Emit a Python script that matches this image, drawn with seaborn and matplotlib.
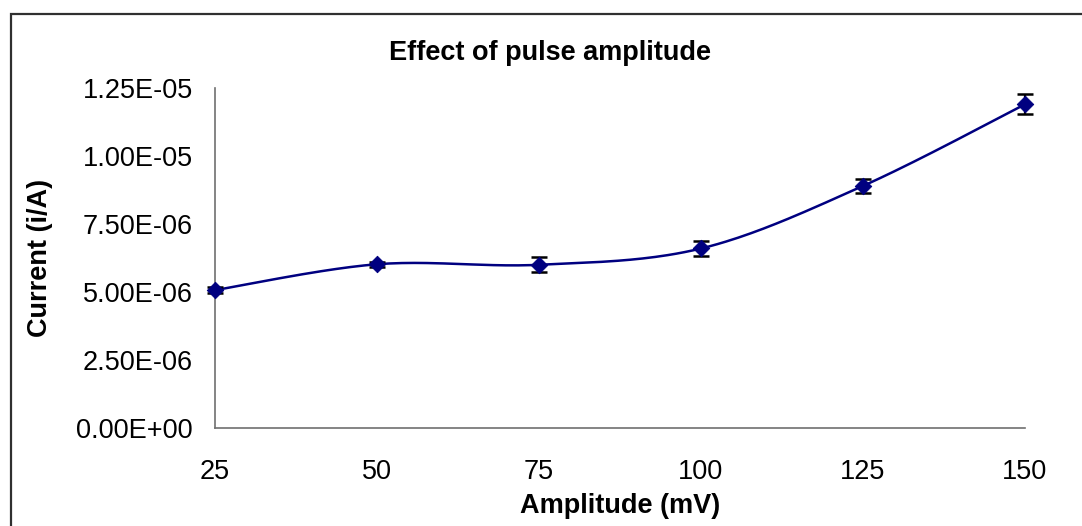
import numpy as np
import pandas as pd
import matplotlib
matplotlib.use("Agg")
import matplotlib.pyplot as plt
import seaborn as sns
from matplotlib.patches import Rectangle

# Measured data
amplitude_mv = [25, 50, 75, 100, 125, 150]
current_a = [5.07e-6, 6.02e-6, 6.0e-6, 6.6e-6, 8.9e-6, 11.9e-6]
current_err = [0.1e-6, 0.1e-6, 0.28e-6, 0.29e-6, 0.25e-6, 0.37e-6]
x_ticks = [25, 50, 75, 100, 125, 150]
y_ticks = [0, 2.5e-6, 5.0e-6, 7.5e-6, 1.0e-5, 1.25e-5]

sns.set_theme(style="white")
plt.rcParams["font.family"] = ["Liberation Sans", "DejaVu Sans"]
plt.rcParams["text.color"] = "black"

W, H = 1082, 526
fig = plt.figure(figsize=(W / 100, H / 100), dpi=100)
ax = fig.add_axes([215 / W, 1 - 428 / H, 810 / W, 340 / H])


def smooth_curve(xs, ys, n=40):
    """Catmull-Rom style smoothed line through the points."""
    p = np.column_stack([xs, ys]).astype(float)
    ext = np.vstack([p[0], p, p[-1]])
    out = []
    for i in range(1, len(ext) - 2):
        p0, p1, p2, p3 = ext[i - 1], ext[i], ext[i + 1], ext[i + 2]
        c1 = p1 + (p2 - p0) / 6
        c2 = p2 - (p3 - p1) / 6
        t = np.linspace(0, 1, n)[:, None]
        seg = ((1 - t) ** 3) * p1 + 3 * ((1 - t) ** 2) * t * c1 + 3 * (1 - t) * t ** 2 * c2 + t ** 3 * p2
        out.append(seg if i == 1 else seg[1:])
    return np.vstack(out)


curve = smooth_curve(amplitude_mv, current_a)
curve_df = pd.DataFrame({"x": curve[:, 0], "y": curve[:, 1]})
pts_df = pd.DataFrame({"Amplitude": amplitude_mv, "Current": current_a})

sns.lineplot(data=curve_df, x="x", y="y", ax=ax, color="#000080", lw=1.8,
             sort=False, estimator=None)
ax.errorbar(amplitude_mv, current_a, yerr=current_err, fmt="none",
            ecolor="black", elinewidth=1.6, capsize=6, capthick=1.8, zorder=3)
sns.scatterplot(data=pts_df, x="Amplitude", y="Current", ax=ax, marker="D",
                s=70, color="#000080", edgecolor="#000080", zorder=4)

ax.set_xlim(25, 150)
ax.set_ylim(0, 1.25e-5)
ax.set_xticks(x_ticks)
ax.set_xticklabels([str(v) for v in x_ticks])
ax.set_yticks(y_ticks)
ax.set_yticklabels(["0.00E+00", "2.50E-06", "5.00E-06", "7.50E-06", "1.00E-05", "1.25E-05"])
ax.set_xlabel("")
ax.set_ylabel("")

for side in ("top", "right"):
    ax.spines[side].set_visible(False)
for side in ("left", "bottom"):
    ax.spines[side].set_color("#707070")
    ax.spines[side].set_linewidth(1.2)
ax.tick_params(axis="both", direction="out", length=7, width=1.2, color="#707070",
               labelsize=19.5, labelcolor="black")
ax.tick_params(axis="x", pad=15.5)
ax.tick_params(axis="y", pad=9)
ax.set_facecolor("white")
for coll in ax.collections:
    coll.set_clip_on(False)
for ln in ax.lines:
    ln.set_clip_on(False)

fig.text(550 / W, 1 - 53 / H, "Effect of pulse amplitude", ha="center", va="center",
         fontsize=19.5, fontweight="bold", color="black")
fig.text(620 / W, 1 - 506 / H, "Amplitude (mV)", ha="center", va="center",
         fontsize=19.5, fontweight="bold", color="black")
fig.text(40 / W, 1 - 258 / H, "Current (i/A)", ha="center", va="center",
         rotation=90, fontsize=19.5, fontweight="bold", color="black")

# chart frame
fig.patches.append(Rectangle((10.5 / W, -0.1), 1.2, 1 - 13.5 / H + 0.1,
                             transform=fig.transFigure, fill=False,
                             edgecolor="#303030", linewidth=1.6))

fig.savefig("out.png", dpi=100, facecolor="white")
